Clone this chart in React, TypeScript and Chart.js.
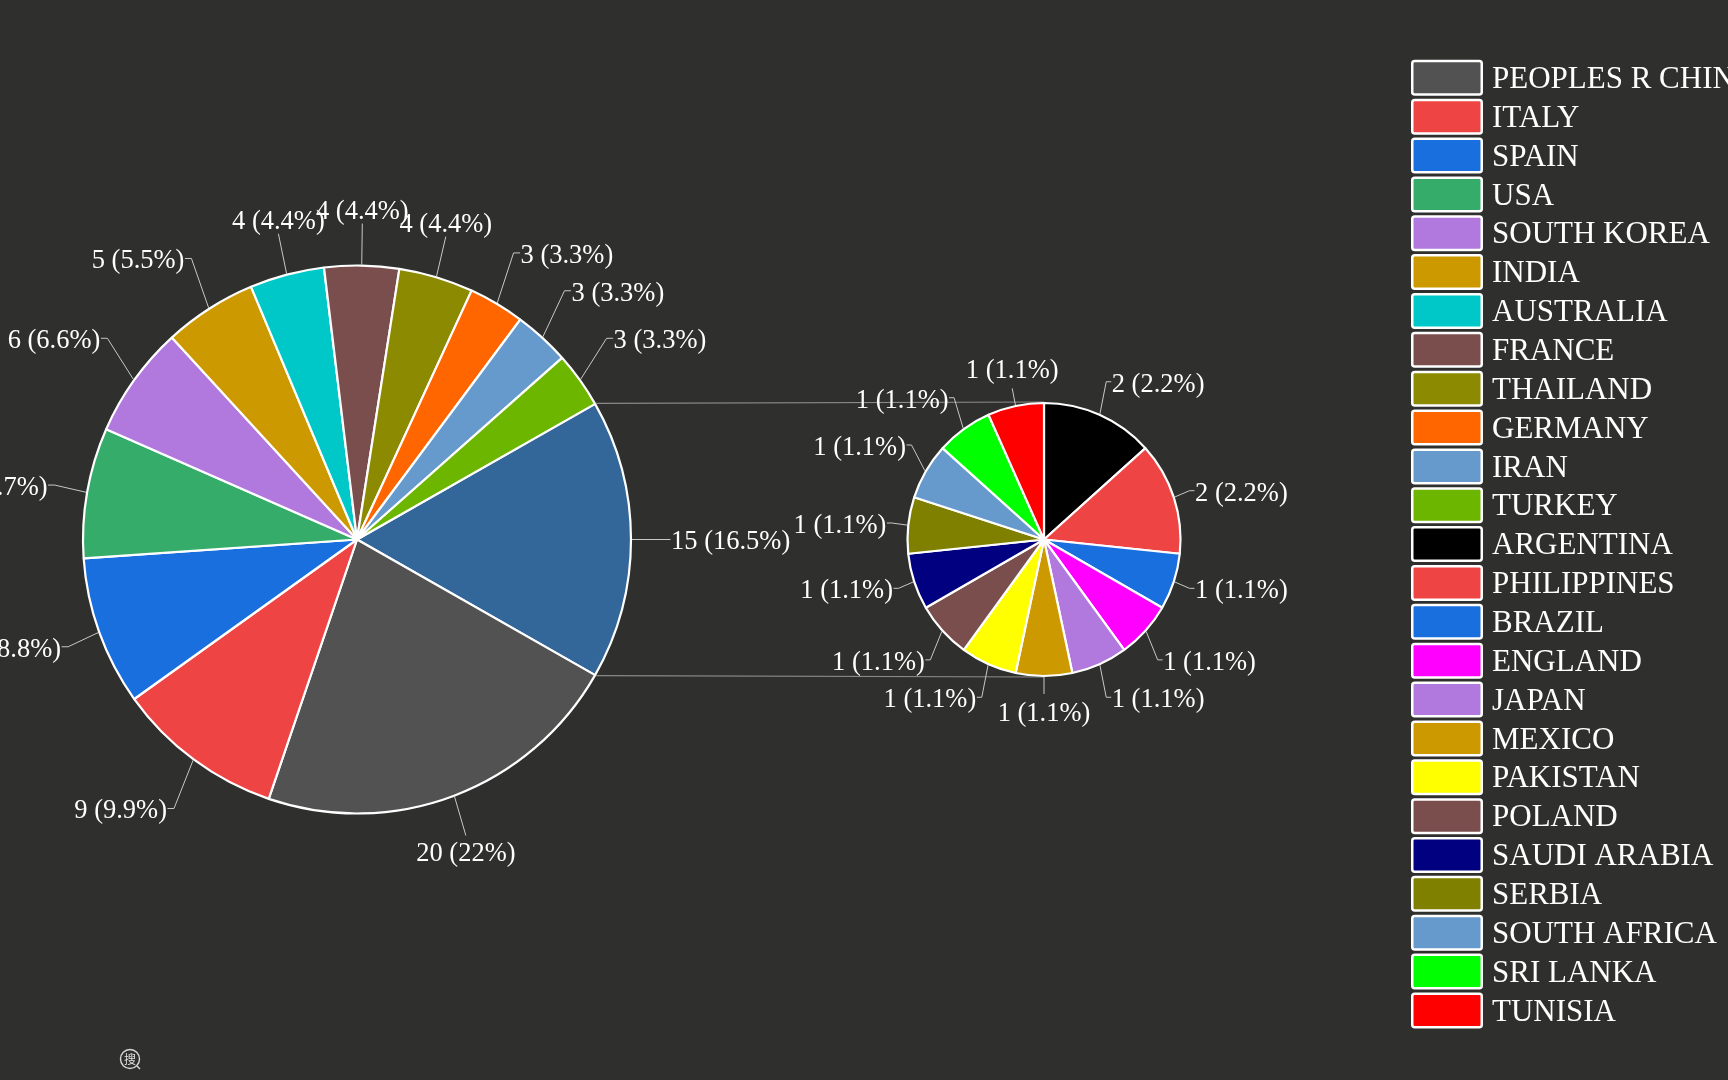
import { useEffect, useRef } from "react";
import { Chart, registerables } from "chart.js";

Chart.register(...registerables);

// ---- data ----
const mainLabels = [
  "PEOPLES R CHINA", "ITALY", "SPAIN", "USA", "SOUTH KOREA", "INDIA",
  "AUSTRALIA", "FRANCE", "THAILAND", "GERMANY", "IRAN", "TURKEY",
];
const mainValues = [20, 9, 8, 7, 6, 5, 4, 4, 4, 3, 3, 3];
const mainColors = [
  "#525252", "#ef4444", "#1a6fdf", "#36ac6b", "#b178de", "#cc9900",
  "#00c8c8", "#7b4e4e", "#8c8a00", "#ff6600", "#6699cc", "#6db600",
];
const otherLabels = [
  "ARGENTINA", "PHILIPPINES", "BRAZIL", "ENGLAND", "JAPAN", "MEXICO",
  "PAKISTAN", "POLAND", "SAUDI ARABIA", "SERBIA", "SOUTH AFRICA",
  "SRI LANKA", "TUNISIA",
];
const otherValues = [2, 2, 1, 1, 1, 1, 1, 1, 1, 1, 1, 1, 1];
const otherColors = [
  "#000000", "#ef4444", "#1a6fdf", "#ff00ff", "#b178de", "#cc9900",
  "#ffff00", "#7b4e4e", "#000080", "#808000", "#6699cc", "#00ff00",
  "#ff0000",
];
const othersLabel = "Others";
const othersColor = "#336699";

// ---- style ----
const BG = "#2f2f2d";
const SERIF = '"Liberation Serif", "Times New Roman", serif';
const TEXT = "#ffffff";
const LEADER = "#c8c8c8";
const CONNECTOR = "#8a8a8a";
const W = 1728;
const H = 1080;

const sum = (a: number[]) => a.reduce((s, v) => s + v, 0);

function fmtPct(v: number, total: number) {
  const p = Math.round((v / total) * 1000) / 10;
  return Number.isInteger(p) ? String(p) : p.toFixed(1);
}

type LabelCfg = {
  R: number;
  extraSide: number;
  extraDiag: number;
  extraVert: number;
  tick: number;
  gap: number;
  topBase: number;
  botBase: number;
};

function labelPlugin(id: string, cfg: LabelCfg, total: number) {
  return {
    id,
    afterDatasetsDraw(chart: any) {
      const ctx = chart.ctx as CanvasRenderingContext2D;
      const meta = chart.getDatasetMeta(0);
      const values = chart.data.datasets[0].data as number[];
      ctx.save();
      ctx.font = `26.5px ${SERIF}`;
      ctx.fillStyle = TEXT;
      ctx.strokeStyle = LEADER;
      ctx.lineWidth = 1;
      meta.data.forEach((el: any, i: number) => {
        const { x, y, startAngle, endAngle, outerRadius } = el.getProps(
          ["x", "y", "startAngle", "endAngle", "outerRadius"],
          true
        );
        const a = (startAngle + endAngle) / 2;
        const c = Math.cos(a);
        const s = Math.sin(a);
        const re = outerRadius + 1;
        const ex = x + re * c;
        const ey = y + re * s;
        const R = outerRadius + cfg.R;
        const ax = x + R * c;
        const ay = y + R * s;
        const sg = s >= 0 ? 1 : -1;
        const v = values[i];
        const text = `${v} (${fmtPct(v, total)}%)`;
        ctx.beginPath();
        ctx.moveTo(ex, ey);
        if (Math.abs(c) < 0.38) {
          const ly = ay + sg * cfg.extraVert;
          ctx.lineTo(ax, ly);
          ctx.stroke();
          ctx.textAlign = "center";
          ctx.textBaseline = "alphabetic";
          ctx.fillText(text, ax, sg < 0 ? ly - cfg.topBase : ly + cfg.botBase);
        } else {
          const ly =
            Math.abs(s) < 0.45 ? ay + s * cfg.extraSide : ay + sg * cfg.extraDiag;
          const dir = c >= 0 ? 1 : -1;
          ctx.lineTo(ax, ly);
          ctx.lineTo(ax + dir * cfg.tick, ly);
          ctx.stroke();
          ctx.textAlign = dir > 0 ? "left" : "right";
          ctx.textBaseline = "middle";
          ctx.fillText(text, ax + dir * (cfg.tick + cfg.gap), ly + 3);
        }
      });
      ctx.restore();
    },
  };
}

function connectorPlugin(getMain: () => any) {
  return {
    id: "connector",
    beforeDatasetsDraw(chart: any) {
      const main = getMain();
      if (!main) return;
      const arc = main.getDatasetMeta(0).data[0];
      const sub = chart.getDatasetMeta(0).data[0];
      if (!arc || !sub) return;
      const m = arc.getProps(["x", "y", "startAngle", "endAngle", "outerRadius"], true);
      const sp = sub.getProps(["x", "y", "outerRadius"], true);
      const mr = m.outerRadius + 1;
      const sr = sp.outerRadius + 1;
      const ctx = chart.ctx as CanvasRenderingContext2D;
      ctx.save();
      ctx.strokeStyle = CONNECTOR;
      ctx.lineWidth = 1.2;
      ctx.beginPath();
      ctx.moveTo(m.x + mr * Math.cos(m.startAngle), m.y + mr * Math.sin(m.startAngle));
      ctx.lineTo(sp.x, sp.y - sr);
      ctx.moveTo(m.x + mr * Math.cos(m.endAngle), m.y + mr * Math.sin(m.endAngle));
      ctx.lineTo(sp.x, sp.y + sr);
      ctx.stroke();
      ctx.restore();
    },
  };
}

const legendPlugin = {
  id: "customLegend",
  afterDraw(chart: any) {
    const ctx = chart.ctx as CanvasRenderingContext2D;
    const labels = [...mainLabels, ...otherLabels];
    const colors = [...mainColors, ...otherColors];
    const left = 1411;
    const top0 = 59.8;
    const pitch = 38.86;
    const bw = 72;
    const bh = 36;
    ctx.save();
    ctx.font = `31px ${SERIF}`;
    ctx.textAlign = "left";
    ctx.textBaseline = "middle";
    labels.forEach((lab, i) => {
      const t = top0 + i * pitch;
      ctx.beginPath();
      (ctx as any).roundRect(left + 1.25, t + 1.25, bw - 2.5, bh - 2.5, 2.5);
      ctx.fillStyle = colors[i];
      ctx.fill();
      ctx.lineWidth = 2.5;
      ctx.strokeStyle = "#ffffff";
      ctx.stroke();
      ctx.fillStyle = TEXT;
      ctx.fillText(lab, left + bw + 9, t + bh / 2 + 2);
    });
    ctx.restore();
  },
};

const iconPlugin = {
  id: "searchIcon",
  afterDraw(chart: any) {
    const ctx = chart.ctx as CanvasRenderingContext2D;
    ctx.save();
    ctx.strokeStyle = "#d8d8d8";
    ctx.fillStyle = "#e0e0e0";
    ctx.lineWidth = 1.4;
    ctx.beginPath();
    ctx.arc(130, 1059, 9.5, 0, Math.PI * 2);
    ctx.stroke();
    ctx.beginPath();
    ctx.moveTo(137, 1066);
    ctx.lineTo(140, 1069);
    ctx.stroke();
    ctx.font = '12px "Noto Sans CJK SC", sans-serif';
    ctx.textAlign = "center";
    ctx.textBaseline = "middle";
    ctx.fillText("搜", 130, 1059.5);
    ctx.restore();
  },
};

export default function App() {
  const mainRef = useRef<HTMLCanvasElement | null>(null);
  const subRef = useRef<HTMLCanvasElement | null>(null);

  useEffect(() => {
    if (!mainRef.current || !subRef.current) return;
    const othersValue = sum(otherValues);
    const total = sum(mainValues) + othersValue;
    const mainRotation = 90 - (othersValue / total) * 180;

    const mainCx = 357;
    const mainR = 274;
    const subCx = 1044;
    const subR = 136.5;

    const main = new Chart(mainRef.current, {
      type: "pie",
      data: {
        labels: [othersLabel, ...mainLabels],
        datasets: [
          {
            data: [othersValue, ...mainValues],
            backgroundColor: [othersColor, ...mainColors],
            borderColor: "#ffffff",
            borderWidth: 2.2,
            rotation: mainRotation,
            radius: mainR,
          } as any,
        ],
      },
      options: {
        responsive: false,
        animation: false,
        events: [],
        rotation: mainRotation,
        radius: mainR,
        layout: { padding: { left: 0, right: W - mainCx * 2, top: 0, bottom: 1 } },
        plugins: { legend: { display: false }, tooltip: { enabled: false } },
      } as any,
      plugins: [
        labelPlugin(
          "mainLabels",
          { R: 33, extraSide: 10, extraDiag: 22.5, extraVert: 9, tick: 6.5, gap: 0.5, topBase: 4.5, botBase: 25 },
          total
        ),
        iconPlugin,
      ],
    });

    const sub = new Chart(subRef.current, {
      type: "pie",
      data: {
        labels: otherLabels,
        datasets: [
          {
            data: otherValues,
            backgroundColor: otherColors,
            borderColor: "#ffffff",
            borderWidth: 2.2,
            rotation: 0,
            radius: subR,
          } as any,
        ],
      },
      options: {
        responsive: false,
        animation: false,
        events: [],
        rotation: 0,
        radius: subR,
        layout: { padding: { left: subCx * 2 - W, right: 0, top: 0, bottom: 1 } },
        plugins: { legend: { display: false }, tooltip: { enabled: false } },
      } as any,
      plugins: [
        connectorPlugin(() => main),
        labelPlugin(
          "subLabels",
          { R: 16.5, extraSide: 5, extraDiag: 18, extraVert: 1.5, tick: 5, gap: 0.5, topBase: 10, botBase: 27 },
          total
        ),
        legendPlugin,
      ],
    });

    return () => {
      sub.destroy();
      main.destroy();
    };
  }, []);

  return (
    <div
      style={{
        position: "fixed",
        left: 0,
        top: 0,
        width: W,
        height: H,
        background: BG,
        overflow: "hidden",
      }}
    >
      <canvas
        ref={mainRef}
        width={W}
        height={H}
        style={{ position: "absolute", left: 0, top: 0, width: W, height: H }}
      />
      <canvas
        ref={subRef}
        width={W}
        height={H}
        style={{ position: "absolute", left: 0, top: 0, width: W, height: H }}
      />
    </div>
  );
}
